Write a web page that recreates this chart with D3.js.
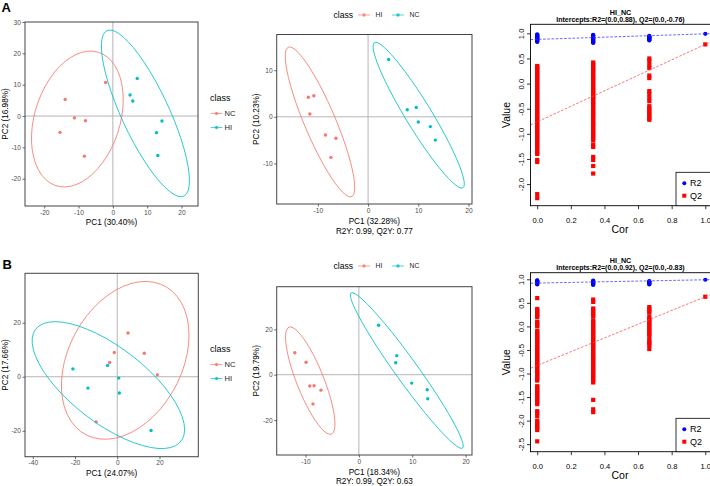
<!DOCTYPE html>
<html><head><meta charset="utf-8">
<script src="https://cdn.jsdelivr.net/npm/d3@7"></script>
<style>body{margin:0;background:#fff}svg{display:block;font-family:"Liberation Sans",Arial,Helvetica,sans-serif}</style>
</head><body><svg id="c" width="710" height="486"></svg>
<script>
// ---------------- DATA ----------------
// Panel A, PCA scores
const A1_NC = [[-2.1,10.7],[-13.9,5.3],[-11.2,-0.6],[-8.0,-1.5],[-15.4,-5.2],[-8.3,-12.8]];
const A1_HI = [[7.1,12.0],[5.0,6.7],[5.8,4.8],[14.3,-1.6],[12.7,-5.3],[13.1,-12.6]];
// Panel A, OPLS-DA scores
const A2_HI = [[-11.9,4.2],[-10.8,4.5],[-11.6,0.6],[-8.5,-3.9],[-6.4,-4.6],[-7.4,-8.7]];
const A2_NC = [[4.1,12.3],[7.8,1.5],[9.6,2.0],[10.0,-1.1],[12.4,-2.1],[13.4,-5.0]];
// Panel B, PCA scores
const B1_NC = [[5.1,16.2],[-1.4,9.0],[-3.6,5.3],[12.8,8.7],[19.0,0.7],[-10.0,-16.7]];
const B1_HI = [[-21.0,2.9],[-4.6,4.2],[0.7,-0.5],[-13.9,-4.2],[1.0,-6.0],[16.0,-19.9]];
// Panel B, OPLS-DA scores
const B2_HI = [[-12.0,9.7],[-9.9,5.5],[-9.2,-5.0],[-8.4,-4.9],[-7.1,-6.8],[-8.6,-12.9]];
const B2_NC = [[3.7,21.8],[7.1,8.4],[6.9,5.3],[9.9,-3.7],[12.8,-6.6],[12.9,-10.6]];

const axisTitles = {
  A1:["PC1 (30.40%)","PC2 (16.98%)"], A2:["PC1 (32.28%)","PC2 (10.23%)","R2Y: 0.99, Q2Y: 0.77"],
  B1:["PC1 (24.07%)","PC2 (17.66%)"], B2:["PC1 (18.34%)","PC2 (19.79%)","R2Y: 0.99, Q2Y: 0.63"]
};

// Permutation test (x = correlation with original Y)
const permCor = [0, 0.333, 0.667, 1];
const A3_R2 = [
  [0.98,0.97,0.96,0.95,0.94,0.93,0.92,0.91,0.9,0.89,0.88,0.87,0.86,0.85,0.84,0.83],
  [0.97,0.96,0.95,0.93,0.92,0.91,0.9,0.89,0.88,0.87,0.86,0.85,0.84,0.83,0.82,0.81],
  [0.95,0.94,0.93,0.92,0.91,0.9,0.89,0.88,0.87,0.86],
  [0.99]];
const A3_Q2 = [
  [0.35,0.33,0.29,0.26,0.22,0.19,0.15,0.12,0.08,0.05,0.01,-0.03,-0.07,-0.1,-0.14,-0.18,-0.21,-0.25,-0.29,-0.33,-0.36,-0.4,-0.44,-0.47,-0.51,-0.55,-0.59,-0.62,-0.66,-0.7,-0.73,-0.77,-0.81,-0.85,-0.88,-0.92,-0.96,-0.99,-1.03,-1.07,-1.1,-1.14,-1.18,-1.22,-1.25,-1.29,-1.33,-1.37,-1.4,-1.52,-1.56,-2.2,-2.28],
  [0.42,0.4,0.36,0.32,0.29,0.25,0.21,0.17,0.13,0.1,0.06,0.02,-0.02,-0.06,-0.09,-0.13,-0.17,-0.21,-0.25,-0.28,-0.32,-0.36,-0.4,-0.43,-0.47,-0.51,-0.55,-0.59,-0.62,-0.66,-0.7,-0.74,-0.78,-0.81,-0.85,-0.89,-0.93,-0.96,-1.0,-1.04,-1.08,-1.12,-1.21,-1.26,-1.46,-1.52,-1.64,-1.79],
  [0.5,0.45,0.37,0.31,0.16,0.11,-0.15,-0.21,-0.29,-0.35,-0.45,-0.49,-0.53,-0.57,-0.61,-0.65,-0.69,-0.72],
  [0.78]];
const A3_intercepts = {R2:0.88, Q2:-0.76};
const B3_R2 = [
  [0.98,0.97,0.96,0.95,0.94,0.93,0.92,0.91,0.9,0.89],
  [0.97,0.96,0.95,0.94,0.93,0.92,0.91,0.9,0.89,0.88],
  [0.96,0.95,0.94,0.93,0.92,0.91,0.9,0.89],
  [0.99]];
const B3_Q2 = [
  [0.6,0.37,0.34,0.3,0.26,0.23,0.2,0.1,0.07,0.03,0.0,-0.1,-0.13,-0.17,-0.21,-0.25,-0.29,-0.32,-0.36,-0.4,-0.44,-0.47,-0.51,-0.55,-0.59,-0.63,-0.66,-0.7,-0.74,-0.78,-0.82,-0.85,-0.89,-0.93,-0.97,-1.01,-1.04,-1.08,-1.12,-1.15,-1.27,-1.3,-1.34,-1.38,-1.42,-1.46,-1.5,-1.54,-1.58,-1.62,-1.65,-1.8,-1.84,-1.9,-2.0,-2.04,-2.08,-2.12,-2.16,-2.2,-2.44],
  [0.57,0.52,0.38,0.34,0.3,0.26,0.22,0.13,0.09,0.05,0.01,-0.03,-0.07,-0.11,-0.14,-0.18,-0.22,-0.26,-0.3,-0.34,-0.38,-0.41,-0.45,-0.49,-0.53,-0.57,-0.61,-0.65,-0.68,-0.72,-0.76,-0.8,-0.84,-0.88,-0.92,-0.95,-0.99,-1.03,-1.07,-1.11,-1.15,-1.19,-1.56,-1.76,-1.82],
  [0.41,0.37,0.33,0.29,0.2,0.16,0.12,0.08,0.04,0.0,-0.04,-0.08,-0.12,-0.16,-0.2,-0.28,-0.32,-0.36,-0.4,-0.48],
  [0.63]];
const B3_intercepts = {R2:0.92, Q2:-0.83};
const permTitle = "HI_NC";
const permXTicks = [0,0.2,0.4,0.6,0.8,1.0];

// ---------------- DRAWING ----------------
const svg = d3.select("#c");
const RED = "#F8766D", TEAL = "#00BFC4";

function qf95(d){ return (d/2)*(Math.pow(0.05,-2/d)-1); } // F(0.95; 2, d)

function covTrob(pts, nu=5, maxit=25, tol=0.01){
  const n = pts.length, p = 2;
  let loc = [d3.mean(pts,d=>d[0]), d3.mean(pts,d=>d[1])];
  let w = pts.map(()=>1), X;
  for(let it=0; it<maxit; it++){
    const w0 = w.slice();
    X = pts.map(d=>[d[0]-loc[0], d[1]-loc[1]]);
    const sw = d3.sum(w);
    let a=0,b=0,c=0;
    X.forEach((v,i)=>{a+=w[i]*v[0]*v[0]; b+=w[i]*v[0]*v[1]; c+=w[i]*v[1]*v[1];});
    a/=sw; b/=sw; c/=sw;
    const det = a*c-b*b;
    const Q = X.map(v=>(c*v[0]*v[0]-2*b*v[0]*v[1]+a*v[1]*v[1])/det);
    w = Q.map(q=>(nu+p)/(nu+q));
    const sw2 = d3.sum(w);
    loc = [d3.sum(pts,(d,i)=>w[i]*d[0])/sw2, d3.sum(pts,(d,i)=>w[i]*d[1])/sw2];
    if (w.every((v,i)=>Math.abs(v-w0[i])<tol)) break;
  }
  let a=0,b=0,c=0;
  X.forEach((v,i)=>{a+=w[i]*v[0]*v[0]; b+=w[i]*v[0]*v[1]; c+=w[i]*v[1]*v[1];});
  return {cov:[a/n,b/n,c/n], center:loc};
}
function ellipse(pts){
  const {cov:[a,b,c], center} = covTrob(pts);
  const r = Math.sqrt(2*qf95(pts.length-1));
  const r11=Math.sqrt(a), r12=b/r11, r22=Math.sqrt(c-r12*r12);
  const out=[];
  for(let i=0;i<=51;i++){
    const t=i*2*Math.PI/51, co=Math.cos(t), si=Math.sin(t);
    out.push([center[0]+r*co*r11, center[1]+r*(co*r12+si*r22)]);
  }
  return out;
}

function legendKey(g, x0, x1, y, col){
  g.append("line").attr("x1",x0).attr("x2",x1).attr("y1",y).attr("y2",y).attr("stroke",col).attr("stroke-width",0.9).attr("opacity",0.75);
  g.append("circle").attr("cx",(x0+x1)/2).attr("cy",y).attr("r",1.7).attr("fill",col).attr("opacity",0.8);
}

function drawPCA(cfg){
  const g = svg.append("g");
  const [bx0,bx1,by0,by1] = cfg.box;
  const x = d3.scaleLinear().domain(cfg.xd).range([bx0,bx1]);
  const y = d3.scaleLinear().domain(cfg.yd).range([by1,by0]);
  g.append("line").attr("x1",bx0).attr("x2",bx1).attr("y1",y(0)).attr("y2",y(0)).attr("stroke","#b5b5b5").attr("stroke-width",1);
  g.append("line").attr("x1",x(0)).attr("x2",x(0)).attr("y1",by0).attr("y2",by1).attr("stroke","#b5b5b5").attr("stroke-width",1);
  cfg.groups.forEach(gr=>{
    g.append("g").selectAll("circle").data(gr.pts).join("circle")
      .attr("cx",d=>x(d[0])).attr("cy",d=>y(d[1])).attr("r",1.7).attr("fill",gr.col);
  });
  const line = d3.line().x(d=>x(d[0])).y(d=>y(d[1]));
  cfg.groups.forEach(gr=>{
    g.append("path").attr("d",line(ellipse(gr.pts))).attr("fill","none").attr("stroke",gr.col).attr("stroke-width",0.85);
  });
  g.append("rect").attr("x",bx0).attr("y",by0).attr("width",bx1-bx0).attr("height",by1-by0)
    .attr("fill","none").attr("stroke","#444").attr("stroke-width",1);
  const xa = g.append("g").attr("transform",`translate(0,${by1})`)
    .call(d3.axisBottom(x).tickValues(cfg.xt).tickSize(2.5).tickPadding(1.6).tickFormat(d=>String(d)));
  const ya = g.append("g").attr("transform",`translate(${bx0},0)`)
    .call(d3.axisLeft(y).tickValues(cfg.yt).tickSize(2.5).tickPadding(1.6).tickFormat(d=>String(d)));
  [xa,ya].forEach(a=>{
    a.select(".domain").remove();
    a.selectAll("line").attr("stroke","#444").attr("stroke-width",0.8);
    a.selectAll("text").attr("fill","#4d4d4d").style("font-size","6.6px").attr("font-family",null);
  });
  const t = cfg.titles;
  g.append("text").attr("x",(bx0+bx1)/2).attr("y",cfg.xtY).attr("text-anchor","middle").style("font-size","8.2px").text(t[0]);
  if (t[2]) g.append("text").attr("x",(bx0+bx1)/2).attr("y",cfg.xtY+9.7).attr("text-anchor","middle").style("font-size","8.2px").text(t[2]);
  g.append("text").attr("transform",`translate(${cfg.ytX},${(by0+by1)/2}) rotate(-90)`).attr("dy","0.35em")
    .attr("text-anchor","middle").style("font-size","8.2px").text(t[1]);
  const L = cfg.legend;
  if (L.type==="right"){
    g.append("text").attr("x",L.x).attr("y",L.y).style("font-size","9px").text("class");
    cfg.groups.forEach((gr,i)=>{
      const yy = L.y+12.5+i*14;
      legendKey(g, L.x+0.7, L.x+12.5, yy, gr.col);
      g.append("text").attr("x",L.x+14.5).attr("y",yy).attr("dy","0.35em").style("font-size","7.6px").attr("fill","#222").text(gr.name);
    });
  } else {
    g.append("text").attr("x",L.x).attr("y",L.y).attr("dy","0.35em").style("font-size","8.6px").text("class");
    let xx = L.x+24.5;
    cfg.groups.forEach(gr=>{
      legendKey(g, xx, xx+12, L.y, gr.col);
      g.append("text").attr("x",xx+17.5).attr("y",L.y).attr("dy","0.35em").style("font-size","6.8px").attr("fill","#222").text(gr.name);
      xx += 34;
    });
  }
}

function drawPerm(cfg){
  const g = svg.append("g");
  const [bx0,bx1,by0,by1] = cfg.box;
  const x = d3.scaleLinear().domain([-0.04,1.04]).range([bx0,bx1]);
  const y = d3.scaleLinear().domain(cfg.yd).range([by1,by0]);
  const clipId = "clip"+cfg.id;
  g.append("clipPath").attr("id",clipId).append("rect").attr("x",bx0).attr("y",by0).attr("width",bx1-bx0).attr("height",by1-by0);
  const inner = g.append("g").attr("clip-path",`url(#${clipId})`);
  cfg.R2.forEach((vals,i)=>{
    inner.append("g").selectAll("circle").data(vals).join("circle")
      .attr("cx",x(permCor[i])).attr("cy",d=>y(d)).attr("r",2.1).attr("fill","#0000ff");
  });
  cfg.Q2.forEach((vals,i)=>{
    inner.append("g").selectAll("rect").data(vals).join("rect")
      .attr("x",x(permCor[i])-2.1).attr("y",d=>y(d)-2.1).attr("width",4.2).attr("height",4.2).attr("fill","#ff0000");
  });
  const r2Orig = cfg.R2[3][0], q2Orig = cfg.Q2[3][0];
  [[cfg.ints.R2, r2Orig, "#3a3aff"],[cfg.ints.Q2, q2Orig, "#ff4a4a"]].forEach(([a,v,col])=>{
    const s = v - a;
    inner.append("line").attr("x1",x(-0.04)).attr("y1",y(a+s*-0.04)).attr("x2",x(1.04)).attr("y2",y(a+s*1.04))
      .attr("stroke",col).attr("stroke-width",0.9).attr("stroke-dasharray","2.6,1.6").attr("opacity",0.85);
  });
  g.append("rect").attr("x",bx0).attr("y",by0).attr("width",bx1-bx0).attr("height",by1-by0)
    .attr("fill","none").attr("stroke","#000").attr("stroke-width",0.9);
  const xa = g.append("g").attr("transform",`translate(0,${by1})`)
    .call(d3.axisBottom(x).tickValues(permXTicks).tickSize(3.5).tickPadding(8.2).tickFormat(d=>d.toFixed(1)));
  const ya = g.append("g").attr("transform",`translate(${bx0},0)`)
    .call(d3.axisLeft(y).tickValues(cfg.yt).tickSize(3.5).tickFormat(d=>d.toFixed(1)));
  ya.selectAll("text").attr("x",null).attr("dy","0.35em").attr("text-anchor","middle")
    .attr("transform","translate(-9.6,0) rotate(-90)");
  [xa,ya].forEach(a=>{
    a.select(".domain").remove();
    a.selectAll("line").attr("stroke","#000").attr("stroke-width",0.8);
    a.selectAll("text").attr("fill","#000").style("font-size","7.6px").attr("font-family",null);
  });
  g.append("text").attr("x",620).attr("y",by1+27.2).attr("text-anchor","middle").style("font-size","10.5px").text("Cor");
  g.append("text").attr("transform",`translate(506.7,${(by0+by1)/2}) rotate(-90)`).attr("dy","0.35em")
    .attr("text-anchor","middle").style("font-size","10.5px").text("Value");
  g.append("text").attr("x",620.5).attr("y",by0-9.4).attr("text-anchor","middle").style("font-size","7.2px").attr("font-weight","bold").text(permTitle);
  g.append("text").attr("x",620.5).attr("y",by0-2.6).attr("text-anchor","middle").style("font-size","7px").attr("font-weight","bold")
    .text(`Intercepts:R2=(0.0,${cfg.ints.R2.toFixed(2)}), Q2=(0.0,${cfg.ints.Q2.toFixed(2)})`);
  const ly0 = by1-33.4;
  g.append("rect").attr("x",676).attr("y",ly0).attr("width",40).attr("height",33.4).attr("fill","#fff").attr("stroke","#000").attr("stroke-width",0.8);
  g.append("circle").attr("cx",684.3).attr("cy",ly0+11).attr("r",2).attr("fill","#0000ff");
  g.append("rect").attr("x",682.3).attr("y",ly0+21.4).attr("width",4).attr("height",4).attr("fill","#ff0000");
  g.append("text").attr("x",690).attr("y",ly0+11).attr("dy","0.35em").style("font-size","9px").text("R2");
  g.append("text").attr("x",690).attr("y",ly0+23.4).attr("dy","0.35em").style("font-size","9px").text("Q2");
}

drawPCA({box:[25,198,22,206], xd:[-25.6,24.8], yd:[-28.7,30.0], xt:[-20,-10,0,10,20], yt:[-20,-10,0,10,20,30],
  groups:[{name:"NC",col:RED,pts:A1_NC},{name:"HI",col:TEAL,pts:A1_HI}], titles:axisTitles.A1, xtY:225, ytX:5,
  legend:{type:"right", x:210, y:101}});
drawPCA({box:[276.7,472,34.5,204], xd:[-18.2,20.7], yd:[-18.7,17.65], xt:[-10,0,10,20], yt:[-10,0,10],
  groups:[{name:"HI",col:RED,pts:A2_HI},{name:"NC",col:TEAL,pts:A2_NC}], titles:axisTitles.A2, xtY:224, ytX:256,
  legend:{type:"top", x:333.5, y:15}});
drawPerm({id:"A3", box:[530.5,712,24.3,205.7], yd:[-2.43,1.18], yt:[-2,-1.5,-1,-0.5,0,0.5,1],
  R2:A3_R2, Q2:A3_Q2, ints:A3_intercepts});
drawPCA({box:[25,198.3,273.3,456.7], xd:[-43.7,38.4], yd:[-29.6,38.3], xt:[-40,-20,0,20], yt:[-20,0,20],
  groups:[{name:"NC",col:RED,pts:B1_NC},{name:"HI",col:TEAL,pts:B1_HI}], titles:axisTitles.B1, xtY:476.3, ytX:5,
  legend:{type:"right", x:210, y:352}});
drawPCA({box:[276.7,472,286.7,455], xd:[-15.4,21.2], yd:[-35.4,38.8], xt:[-10,0,10,20], yt:[-20,0,20],
  groups:[{name:"HI",col:RED,pts:B2_HI},{name:"NC",col:TEAL,pts:B2_NC}], titles:axisTitles.B2, xtY:474.7, ytX:256,
  legend:{type:"top", x:333.5, y:266}});
drawPerm({id:"B3", box:[530.5,712,272.7,451.7], yd:[-2.66,1.14], yt:[-2.5,-2,-1.5,-1,-0.5,0,0.5,1],
  R2:B3_R2, Q2:B3_Q2, ints:B3_intercepts});

svg.append("text").attr("x",1.5).attr("y",12).style("font-size","13px").attr("font-weight","bold").text("A");
svg.append("text").attr("x",2.5).attr("y",268.5).style("font-size","13px").attr("font-weight","bold").text("B");
</script></body></html>
